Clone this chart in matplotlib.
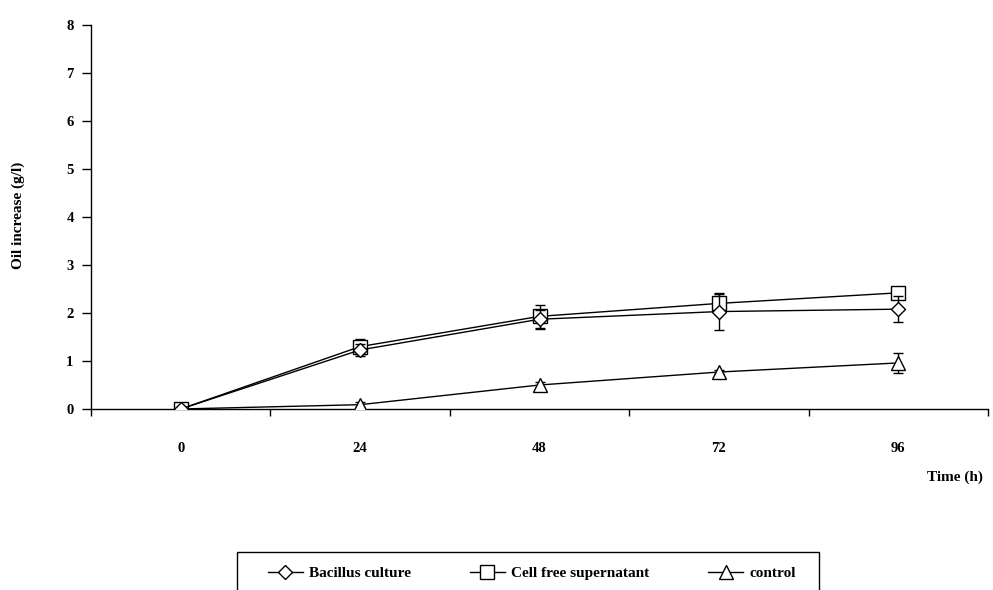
import numpy as np
import matplotlib as mpl
mpl.use('Agg')
import matplotlib.pyplot as plt
from matplotlib.patches import Rectangle
from matplotlib.ticker import FixedLocator

plt.rcParams['font.family'] = ['Liberation Serif', 'DejaVu Serif']
plt.rcParams['font.weight'] = 'bold'

# data
time_labels = ['0', '24', '48', '72', '96']
bacillus = [0.0, 1.23, 1.87, 2.03, 2.08]
bacillus_err = [0.0, 0.12, 0.20, 0.38, 0.27]
supernatant = [0.0, 1.30, 1.93, 2.20, 2.42]
supernatant_err = [0.0, 0.15, 0.24, 0.20, 0.05]
control = [0.0, 0.09, 0.50, 0.77, 0.96]
control_err = [0.0, 0.05, 0.06, 0.05, 0.20]

W, H = 993, 590
fig = plt.figure(figsize=(W / 100, H / 100), dpi=100)
ax = fig.add_axes([91 / W, 1 - 409 / H, (988 - 91) / W, (409 - 25) / H])

x = np.arange(len(time_labels))
style = dict(color='black', lw=1.0, mfc='white', mec='black', mew=1.0,
             capsize=3.5, elinewidth=1.0, ecolor='black')

c_ctrl = ax.errorbar(x, control, yerr=control_err, marker='^', ms=10,
                     label='control', zorder=3, **style)
c_sup = ax.errorbar(x, supernatant, yerr=supernatant_err, marker='s', ms=10,
                    label='Cell free supernatant', zorder=4, **style)
c_bac = ax.errorbar(x, bacillus, yerr=bacillus_err, marker='D', ms=7,
                    label='Bacillus culture', zorder=5, **style)

ax.set_xlim(-0.5, len(time_labels) - 0.5)
ax.set_ylim(0, 8)
ax.set_yticks(range(0, 9))
ax.set_xticks(x)
ax.set_xticklabels(time_labels)
ax.xaxis.set_minor_locator(FixedLocator(np.arange(-0.5, len(time_labels), 1.0)))
ax.tick_params(axis='x', which='major', length=0, pad=24, labelsize=10.5)
ax.tick_params(axis='x', which='minor', length=5, width=1, direction='out')
ax.tick_params(axis='y', length=6.5, width=1, direction='out', pad=6,
               labelsize=10.5)

for s in ['top', 'right']:
    ax.spines[s].set_visible(False)
for s in ['left', 'bottom']:
    ax.spines[s].set_linewidth(1)

fig.text(18 / W, 1 - 215 / H, 'Oil increase (g/l)', rotation=90,
         ha='center', va='center', fontsize=11, fontweight='bold')
fig.text(983 / W, 1 - 477 / H, 'Time (h)', ha='right', va='center',
         fontsize=11, fontweight='bold')

# legend uses only the line + marker, no error bars
handles = [c_bac[0], c_sup[0], c_ctrl[0]]
labels = ['Bacillus culture', 'Cell free supernatant', 'control']
leg = fig.legend(handles, labels,
                 loc='center left', bbox_to_anchor=(260 / W, 1 - 573 / H),
                 ncol=3, frameon=False, borderpad=0, fontsize=11,
                 handlelength=2.3, handletextpad=0.4, columnspacing=3.85)
fig.patches.append(Rectangle((237 / W, -0.05), (819 - 237) / W, 0.05 + 1 - 552 / H,
                             transform=fig.transFigure, fill=False,
                             ec='black', lw=1))

plt.savefig('out.png', dpi=100)
